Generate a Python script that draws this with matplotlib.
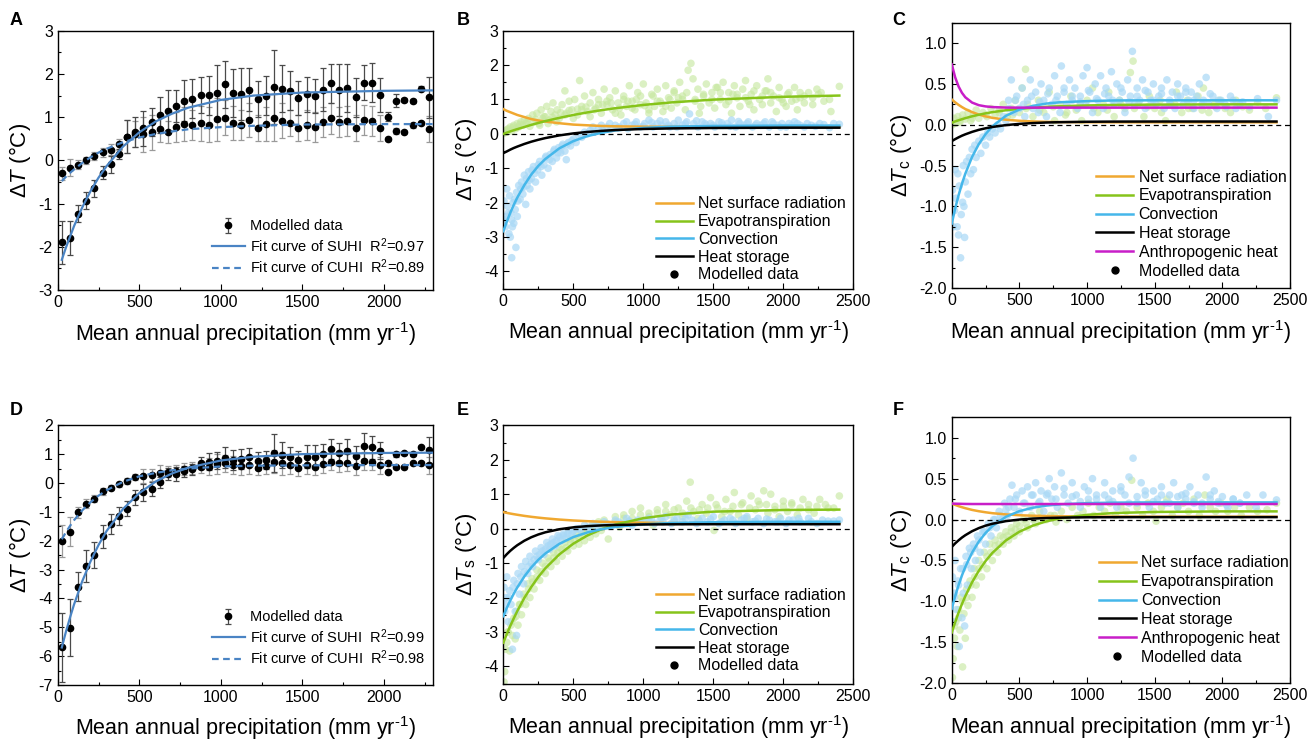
import matplotlib.pyplot as plt
from matplotlib.lines import Line2D
from matplotlib.ticker import MultipleLocator, FormatStrFormatter

plt.rcParams['font.family'] = ['Liberation Sans', 'DejaVu Sans']
plt.rcParams['mathtext.fontset'] = 'custom'
plt.rcParams['mathtext.rm'] = 'Liberation Sans'
plt.rcParams['mathtext.it'] = 'Liberation Sans:italic'
plt.rcParams['axes.unicode_minus'] = False

# ---- panels A / D : binned modelled data (bin centres in mm/yr) ----
bin_x = [25, 75, 125, 175, 225, 275, 325, 375, 425, 475, 525, 575, 625, 675, 725, 775,
         825, 875, 925, 975, 1025, 1075, 1125, 1175, 1225, 1275, 1325, 1375, 1425, 1475,
         1525, 1575, 1625, 1675, 1725, 1775, 1825, 1875, 1925, 1975, 2025, 2075, 2125,
         2175, 2225, 2275]

a_suhi = [-1.90, -1.80, -1.23, -0.93, -0.65, -0.29, -0.09, 0.15,
          0.55, 0.66, 0.74, 0.89, 1.05, 1.14, 1.26, 1.38, 1.43, 1.52, 1.51, 1.56,
          1.76, 1.56, 1.53, 1.64, 1.42, 1.50, 1.70, 1.66, 1.61, 1.44,
          1.53, 1.49, 1.64, 1.78, 1.63, 1.67, 1.46, 1.80, 1.80, 1.51,
          1.01, 1.38, 1.40, 1.37, 1.66, 1.46]
a_suhi_err = [0.5, 0.4, 0.2, 0.2, 0.2, 0.15, 0.2, 0.12,
              0.38, 0.35, 0.4, 0.32, 0.42, 0.5, 0.38, 0.48, 0.45, 0.42, 0.45, 0.65,
              0.55, 0.55, 0.6, 0.5, 0.42, 0.45, 0.85, 0.55, 0.45, 0.4,
              0.4, 0.4, 0.5, 0.45, 0.6, 0.55, 0.45, 0.4, 0.45, 0.4,
              0.1, 0.15, 0.05, 0.05, 0.05, 0.47]
a_cuhi = [-0.30, -0.17, -0.10, 0.0, 0.10, 0.19, 0.25, 0.37,
          0.55, 0.60, 0.60, 0.65, 0.72, 0.65, 0.78, 0.84, 0.82, 0.86, 0.83, 0.95,
          0.99, 0.87, 0.82, 0.93, 0.76, 0.84, 0.99, 0.92, 0.87, 0.74,
          0.82, 0.78, 0.88, 0.97, 0.89, 0.92, 0.76, 0.93, 0.92, 0.76,
          0.49, 0.68, 0.66, 0.81, 0.86, 0.72]
a_cuhi_err = [0.15, 0.2, 0.1, 0.08, 0.1, 0.1, 0.12, 0.12,
              0.38, 0.3, 0.4, 0.4, 0.3, 0.25, 0.35, 0.4, 0.35, 0.4, 0.4, 0.5,
              0.4, 0.4, 0.35, 0.4, 0.3, 0.4, 0.55, 0.4, 0.3, 0.3,
              0.35, 0.35, 0.35, 0.35, 0.35, 0.35, 0.3, 0.35, 0.35, 0.3,
              0.05, 0.08, 0.05, 0.05, 0.05, 0.3]

d_suhi = [-5.69, -5.01, -3.60, -2.88, -2.51, -1.84, -1.41, -1.14,
          -0.89, -0.50, -0.32, -0.20, 0.02, 0.31, 0.31, 0.40, 0.47, 0.70, 0.74, 0.77,
          0.88, 0.80, 0.82, 0.91, 0.76, 0.80, 1.03, 0.97, 0.91, 0.80,
          0.91, 0.91, 0.99, 1.17, 1.03, 1.11, 0.94, 1.28, 1.24, 1.12,
          0.68, 0.99, 1.03, 0.99, 1.24, 1.14]
d_suhi_err = [1.2, 1.0, 0.5, 0.55, 0.45, 0.4, 0.35, 0.3,
              0.25, 0.25, 0.3, 0.25, 0.2, 0.2, 0.25, 0.2, 0.2, 0.2, 0.3, 0.3,
              0.35, 0.35, 0.35, 0.3, 0.3, 0.3, 0.65, 0.45, 0.35, 0.3,
              0.4, 0.4, 0.35, 0.35, 0.35, 0.4, 0.35, 0.45, 0.4, 0.3,
              0.05, 0.1, 0.05, 0.05, 0.05, 0.45]
d_cuhi = [-2.00, -1.69, -1.02, -0.72, -0.54, -0.28, -0.16, -0.05,
          0.08, 0.21, 0.24, 0.28, 0.36, 0.39, 0.43, 0.48, 0.51, 0.54, 0.57, 0.65,
          0.68, 0.62, 0.59, 0.62, 0.51, 0.60, 0.74, 0.68, 0.62, 0.53,
          0.62, 0.57, 0.65, 0.74, 0.68, 0.70, 0.59, 0.76, 0.74, 0.61,
          0.39, 0.54, 0.54, 0.68, 0.70, 0.61]
d_cuhi_err = [0.55, 0.5, 0.2, 0.15, 0.12, 0.12, 0.1, 0.08,
              0.1, 0.1, 0.25, 0.2, 0.25, 0.2, 0.2, 0.2, 0.2, 0.2, 0.3, 0.35,
              0.3, 0.3, 0.3, 0.3, 0.25, 0.3, 0.4, 0.4, 0.3, 0.3,
              0.3, 0.3, 0.3, 0.3, 0.3, 0.3, 0.3, 0.3, 0.3, 0.3,
              0.05, 0.05, 0.05, 0.05, 0.05, 0.3]

# fit curves
fit_x = [25, 50, 75, 100, 150, 200, 250, 300, 400, 500, 600, 700, 800, 1000, 1200, 1500, 2000, 2300]
a_fit_suhi = [-2.30, -2.02, -1.77, -1.52, -1.09, -0.72, -0.40, -0.13, 0.32, 0.65, 0.90, 1.08, 1.22, 1.40, 1.50, 1.57, 1.61, 1.62]
a_fit_cuhi = [-0.48, -0.38, -0.29, -0.21, -0.06, 0.07, 0.18, 0.27, 0.42, 0.53, 0.61, 0.67, 0.72, 0.77, 0.80, 0.83, 0.84, 0.84]
d_fit_suhi = [-5.70, -5.16, -4.67, -4.21, -3.41, -2.73, -2.15, -1.66, -0.90, -0.35, 0.05, 0.33, 0.53, 0.78, 0.91, 1.00, 1.04, 1.05]
d_fit_cuhi = [-1.95, -1.71, -1.49, -1.29, -0.95, -0.67, -0.44, -0.25, 0.04, 0.23, 0.35, 0.44, 0.50, 0.57, 0.60, 0.61, 0.62, 0.62]

# ---- panels B, C, E, F : component curves ----
comp_x = [0, 25, 50, 75, 100, 150, 200, 250, 300, 400, 500, 600, 700, 800, 1000, 1200, 1500, 2000, 2400]

b_rad = [0.72, 0.67, 0.63, 0.59, 0.55, 0.49, 0.43, 0.39, 0.36, 0.31, 0.27, 0.25, 0.23, 0.22, 0.21, 0.205, 0.20, 0.20, 0.20]
b_et = [0.0, 0.036, 0.072, 0.106, 0.139, 0.20, 0.262, 0.318, 0.371, 0.466, 0.55, 0.624, 0.689, 0.746, 0.841, 0.915, 0.996, 1.078, 1.114]
b_conv = [-2.83, -2.55, -2.29, -2.06, -1.85, -1.49, -1.18, -0.93, -0.73, -0.42, -0.21, -0.065, 0.03, 0.10, 0.174, 0.21, 0.23, 0.24, 0.24]
b_stor = [-0.56, -0.51, -0.457, -0.41, -0.369, -0.293, -0.227, -0.171, -0.122, -0.044, 0.014, 0.056, 0.088, 0.112, 0.143, 0.159, 0.172, 0.18, 0.18]

c_rad = [0.31, 0.275, 0.244, 0.217, 0.193, 0.155, 0.125, 0.103, 0.085, 0.062, 0.049, 0.041, 0.036, 0.033, 0.031, 0.03, 0.03, 0.03, 0.03]
c_et = [0.025, 0.041, 0.055, 0.068, 0.081, 0.104, 0.123, 0.14, 0.155, 0.178, 0.196, 0.209, 0.22, 0.227, 0.237, 0.243, 0.247, 0.25, 0.25]
c_conv = [-1.21, -1.027, -0.865, -0.724, -0.60, -0.394, -0.236, -0.114, -0.019, 0.11, 0.187, 0.232, 0.26, 0.276, 0.29, 0.298, 0.30, 0.30, 0.30]
c_stor = [-0.20, -0.176, -0.154, -0.134, -0.117, -0.087, -0.062, -0.043, -0.027, -0.004, 0.011, 0.021, 0.028, 0.032, 0.037, 0.039, 0.04, 0.04, 0.04]
c_anth = [0.74, 0.581, 0.47, 0.392, 0.337, 0.272, 0.24, 0.225, 0.217, 0.211, 0.21, 0.21, 0.21, 0.21, 0.21, 0.21, 0.21, 0.21, 0.21]

e_rad = [0.48, 0.459, 0.439, 0.421, 0.404, 0.372, 0.345, 0.321, 0.30, 0.265, 0.238, 0.218, 0.202, 0.19, 0.174, 0.164, 0.156, 0.152, 0.15]
e_et = [-3.31, -3.055, -2.82, -2.60, -2.39, -2.01, -1.69, -1.40, -1.15, -0.746, -0.435, -0.198, -0.017, 0.119, 0.305, 0.411, 0.494, 0.543, 0.554]
e_conv = [-2.54, -2.30, -2.08, -1.885, -1.704, -1.389, -1.124, -0.904, -0.721, -0.44, -0.244, -0.11, -0.015, 0.05, 0.128, 0.165, 0.188, 0.20, 0.20]
e_stor = [-0.85, -0.74, -0.642, -0.556, -0.479, -0.35, -0.248, -0.168, -0.105, -0.016, 0.039, 0.074, 0.095, 0.108, 0.122, 0.127, 0.13, 0.13, 0.13]

f_rad = [0.195, 0.179, 0.164, 0.151, 0.139, 0.118, 0.102, 0.089, 0.078, 0.063, 0.053, 0.047, 0.043, 0.04, 0.037, 0.036, 0.035, 0.035, 0.035]
f_et = [-1.38, -1.254, -1.138, -1.032, -0.936, -0.766, -0.625, -0.506, -0.407, -0.255, -0.148, -0.073, -0.021, 0.015, 0.058, 0.08, 0.093, 0.10, 0.10]
f_conv = [-1.09, -0.937, -0.802, -0.683, -0.579, -0.404, -0.268, -0.163, -0.08, 0.034, 0.103, 0.145, 0.171, 0.186, 0.201, 0.207, 0.21, 0.21, 0.21]
f_stor = [-0.334, -0.291, -0.254, -0.22, -0.191, -0.142, -0.104, -0.074, -0.051, -0.019, 0.0, 0.012, 0.019, 0.023, 0.028, 0.029, 0.03, 0.03, 0.03]
f_anth = [0.195, 0.194, 0.193, 0.192, 0.191, 0.19, 0.19, 0.19, 0.19, 0.19, 0.19, 0.19, 0.19, 0.19, 0.19, 0.19, 0.19, 0.19, 0.19]

# ---- modelled data clouds (x mm/yr, y degC) ----
b_green_x = [5, 15, 25, 35, 50, 60, 75, 90, 100, 110, 125, 140, 150, 165, 180, 190,
             210, 220, 240, 255, 270, 280, 300, 310, 330, 340, 355, 370, 385, 400, 420, 440, 450, 470, 490,
             510, 530, 545, 560, 580, 600, 620, 640, 660, 680, 700, 720, 740, 760, 780, 800, 820, 840, 860, 880, 900, 920, 940, 960, 980,
             1000, 1020, 1040, 1060, 1080, 1100, 1120, 1140, 1160, 1180, 1200, 1220, 1240, 1260, 1280, 1300, 1320, 1340, 1355, 1370, 1390, 1410, 1430, 1450, 1470, 1490,
             1510, 1530, 1550, 1570, 1590, 1610, 1630, 1650, 1670, 1690, 1710, 1730, 1750, 1770, 1790, 1810, 1830, 1850, 1870, 1890, 1910, 1930, 1950, 1970, 1990,
             2020, 2040, 2060, 2080, 2100, 2120, 2150, 2180, 2210, 2250, 2290, 2340, 2400,
             30, 70, 120, 170, 230, 290, 350, 410, 470, 530, 590, 650, 710, 770, 830, 890, 950, 1010, 1070, 1130,
             1190, 1250, 1310, 1370, 1430, 1490, 1550, 1610, 1670, 1730, 1790, 1850, 1910, 1970, 2030, 2090, 2150, 2210, 2270, 2330,
             260, 320, 380, 440, 500, 560, 620, 680, 740, 800, 860, 920, 980, 1040, 1100, 1160, 1220, 1280, 1400, 1520,
             1640, 1760, 1880, 2000, 2120, 2240]
b_green_y = [0.02, 0.1, 0.05, 0.15, 0.2, 0.08, 0.25, 0.15, 0.3, 0.2, 0.35, 0.25, 0.4, 0.3, 0.45, 0.22,
             0.55, 0.35, 0.6, 0.3, 0.7, 0.45, 0.5, 0.8, 0.4, 0.65, 0.9, 0.55, 0.7, 0.45, 0.85, 1.25, 0.6, 0.95, 0.7,
             1.0, 0.55, 1.55, 0.8, 1.1, 0.65, 0.9, 1.2, 0.75, 1.0, 0.6, 1.3, 0.85, 1.05, 0.7, 1.25, 0.9, 0.55, 1.1, 0.8, 1.4, 0.95, 0.7, 1.2, 0.85,
             1.45, 0.9, 0.6, 1.15, 0.8, 1.3, 0.95, 0.65, 1.4, 1.05, 0.75, 1.25, 0.9, 1.5, 1.1, 0.7, 1.85, 2.05, 1.6, 1.0, 1.3, 0.8, 1.15, 1.45, 0.9, 1.2,
             0.75, 1.35, 1.0, 1.5, 0.85, 1.2, 0.6, 1.4, 1.05, 0.8, 1.3, 1.55, 0.95, 1.15, 0.7, 1.4, 1.0, 0.85, 1.25, 1.6, 0.9, 1.1, 0.65, 1.35, 1.0,
             0.8, 1.2, 0.95, 1.35, 0.7, 1.05, 0.9, 1.2, 0.85, 1.15, 0.95, 0.65, 1.38,
             0.12, 0.2, 0.28, 0.35, 0.42, 0.5, 0.48, 0.62, 0.68, 0.72, 0.78, 0.7, 0.85, 0.9, 0.75, 0.95, 1.0, 0.82, 1.1, 0.88,
             1.0, 1.05, 1.2, 0.95, 1.1, 1.0, 1.2, 0.95, 1.15, 1.05, 1.25, 1.1, 1.2, 1.05, 1.15, 1.0, 1.1, 1.05, 1.2, 1.0,
             0.25, 0.3, 0.35, 0.55, 0.45, 0.7, 0.5, 0.85, 0.95, 0.6, 1.0, 0.75, 1.1, 0.7, 0.95, 0.8, 1.2, 1.0, 0.6, 1.35,
             1.15, 0.85, 1.25, 0.9, 1.2, 1.3]
b_blue_x = [5, 10, 20, 25, 30, 40, 45, 50, 55, 60, 65, 70, 75, 85, 90, 95, 100, 110, 120, 130, 140, 150, 160, 170, 180, 190, 200,
            215, 230, 245, 260, 275, 290, 305, 320, 335, 350, 365, 380, 395, 410, 425, 440, 450, 465, 480, 500, 520, 540, 560, 580, 600,
            620, 650, 680, 710, 740, 770, 800, 830, 860, 890, 920, 950, 980, 1010, 1040, 1070, 1100, 1130, 1160, 1190, 1220, 1250, 1280,
            1310, 1330, 1360, 1390, 1420, 1450, 1480, 1510, 1540, 1570, 1600, 1630, 1660, 1690, 1720, 1750, 1780, 1810, 1840, 1870, 1900,
            1930, 1960, 1990, 2020, 2060, 2100, 2150, 2200, 2260, 2330, 2400,
            640, 700, 760, 820, 880, 940, 1000, 1060, 1120, 1180, 1240, 1300, 1380, 1440, 1500, 1560, 1620, 1680, 1740, 1800,
            1860, 1920, 1980, 2040, 2080, 2120, 2170, 2230, 2290, 2360,
            15, 35, 60, 80, 105, 125, 145, 165, 185, 205, 225, 250, 270, 300, 330, 360, 390, 420, 455, 490]
b_blue_y = [-1.95, -2.5, -2.4, -1.6, -2.1, -2.9, -1.8, -3.0, -2.3, -3.6, -2.7, -2.0, -2.6, -2.2, -3.3, -1.7, -2.4, -1.5, -1.9, -1.4, -1.75, -1.2, -2.05, -1.5, -1.1, -1.6, -1.3,
            -0.95, -1.4, -1.05, -0.8, -1.2, -0.9, -0.65, -1.0, -0.6, -0.8, -0.45, -0.7, -0.4, -0.55, -0.3, -0.5, -0.75, -0.25, -0.35, -0.15, -0.25, -0.05, -0.1, 0.05, 0.0,
            0.1, 0.05, 0.15, 0.1, 0.2, 0.15, 0.25, 0.2, 0.3, 0.15, 0.25, 0.35, 0.2, 0.3, 0.4, 0.2, 0.3, 0.25, 0.35, 0.2, 0.3, 0.4, 0.25,
            0.35, 0.58, 0.3, 0.2, 0.35, 0.25, 0.3, 0.2, 0.35, 0.25, 0.3, 0.4, 0.2, 0.3, 0.25, 0.35, 0.2, 0.3, 0.25, 0.35, 0.2,
            0.3, 0.25, 0.3, 0.2, 0.25, 0.3, 0.2, 0.25, 0.3, 0.18, 0.28,
            0.2, 0.25, 0.3, 0.18, 0.35, 0.28, 0.22, 0.33, 0.38, 0.25, 0.2, 0.3, 0.38, 0.3, 0.25, 0.32, 0.22, 0.36, 0.3, 0.25,
            0.3, 0.35, 0.2, 0.3, 0.35, 0.25, 0.3, 0.22, 0.27, 0.3,
            -2.7, -2.3, -2.5, -1.9, -1.95, -1.6, -1.55, -1.3, -1.35, -1.05, -1.15, -0.9, -0.95, -0.7, -0.75, -0.5, -0.55, -0.35, -0.3, -0.2]

c_blue_x = [5, 10, 20, 25, 30, 40, 45, 50, 55, 65, 70, 80, 85, 90, 95, 100, 110, 120, 130, 140, 150, 160, 170, 180, 200, 215, 230, 250,
            265, 280, 300, 320, 340, 360, 380, 400, 420, 440, 460, 480, 500, 520, 540, 560, 580, 600, 620, 640, 660, 680, 700, 720, 740,
            760, 780, 800, 810, 830, 850, 870, 890, 910, 930, 950, 970, 990, 1000, 1020, 1040, 1060, 1080, 1100, 1120, 1140, 1160, 1180,
            1200, 1220, 1240, 1260, 1280, 1300, 1320, 1335, 1350, 1370, 1390, 1410, 1430, 1450, 1470, 1490, 1510, 1530, 1550, 1570, 1590,
            1610, 1630, 1650, 1670, 1690, 1710, 1730, 1750, 1770, 1790, 1810, 1830, 1860, 1880, 1900, 1930, 1960, 1990, 2020, 2060, 2100,
            2150, 2200, 2260, 2340, 2400,
            420, 470, 530, 590, 650, 710, 770, 830, 890, 950, 1010, 1070, 1130, 1190, 1250, 1310, 1370, 1430, 1490, 1550,
            1610, 1670, 1730, 1790, 1850, 1910, 1970, 2030, 2080, 2130]
c_blue_y = [-0.8, -1.25, -1.05, -0.55, -0.9, -1.25, -0.6, -1.35, -0.75, -1.63, -1.1, -0.95, -0.5, -1.0, -1.38, -0.7, -0.45, -0.85, -0.4, -0.6, -0.3, -0.55, -0.25, -0.4, -0.2, -0.35, -0.15, -0.25,
            -0.1, -0.15, -0.05, -0.1, 0.0, -0.05, 0.1, 0.05, 0.3, 0.55, 0.15, 0.35, 0.2, 0.45, 0.1, 0.3, 0.55, 0.2, 0.4, 0.15, 0.5, 0.3, 0.1, 0.45, 0.25,
            0.6, 0.35, 0.15, 0.72, 0.4, 0.25, 0.55, 0.3, 0.45, 0.2, 0.35, 0.6, 0.25, 0.7, 0.4, 0.15, 0.5, 0.3, 0.6, 0.2, 0.45, 0.35, 0.65,
            0.25, 0.5, 0.3, 0.4, 0.15, 0.55, 0.35, 0.9, 0.25, 0.45, 0.3, 0.55, 0.2, 0.4, 0.3, 0.5, 0.25, 0.35, 0.45, 0.2, 0.55,
            0.3, 0.4, 0.2, 0.5, 0.35, 0.25, 0.45, 0.3, 0.4, 0.2, 0.35, 0.5, 0.3, 0.58, 0.25, 0.35, 0.2, 0.3, 0.25, 0.35, 0.2,
            0.28, 0.22, 0.32, 0.1, 0.3,
            0.2, 0.3, 0.25, 0.35, 0.28, 0.38, 0.3, 0.45, 0.35, 0.28, 0.42, 0.32, 0.38, 0.3, 0.45, 0.28, 0.35, 0.42, 0.3, 0.38,
            0.25, 0.35, 0.4, 0.3, 0.25, 0.38, 0.3, 0.22, 0.3, 0.25]
c_green_x = [5, 15, 30, 45, 60, 80, 100, 120, 140, 160, 180, 200, 230, 260, 290, 320, 350, 380, 410, 440, 470, 500, 520, 545, 560,
             600, 640, 680, 720, 760, 800, 840, 880, 920, 960, 1000, 1040, 1080, 1120, 1160, 1200, 1240, 1280, 1320, 1340, 1380, 1420,
             1460, 1500, 1540, 1580, 1620, 1660, 1700, 1740, 1780, 1820, 1860, 1900, 1940, 1980, 2020, 2060, 2100, 2150, 2200, 2260, 2320, 2400,
             60, 150, 250, 350, 450, 550, 650, 750, 850, 950, 1050, 1150, 1250, 1350, 1450, 1550, 1650, 1750, 1850, 1950]
c_green_y = [0.0, 0.08, 0.02, 0.1, 0.05, 0.12, 0.07, 0.15, 0.05, 0.12, 0.18, 0.08, 0.15, 0.1, 0.2, 0.12, 0.18, 0.25, 0.1, 0.2, 0.3, 0.15, 0.45, 0.68, 0.25,
             0.1, 0.3, 0.15, 0.4, 0.05, 0.25, 0.12, 0.35, 0.18, 0.05, 0.3, 0.45, 0.15, 0.25, 0.4, 0.1, 0.3, 0.2, 0.64, 0.78, 0.25, 0.1,
             0.35, 0.2, 0.3, 0.05, 0.25, 0.4, 0.15, 0.3, 0.2, 0.35, 0.45, 0.15, 0.25, 0.3, 0.2, 0.15, 0.3, 0.22, 0.18, 0.28, 0.2, 0.33,
             0.03, 0.08, 0.12, 0.15, 0.12, 0.2, 0.18, 0.22, 0.15, 0.25, 0.2, 0.18, 0.25, 0.2, 0.22, 0.15, 0.25, 0.2, 0.18, 0.22]

e_green_x = [5, 10, 15, 25, 35, 45, 55, 65, 75, 85, 95, 105, 115, 130, 145, 160, 175, 190, 205, 220, 240, 260, 280, 300, 320, 340,
             360, 380, 400, 420, 440, 460, 480, 500, 520, 540, 560, 580, 600, 620, 640, 660, 680, 700, 720, 750, 770, 800, 830, 860,
             890, 920, 950, 980, 1010, 1040, 1070, 1100, 1130, 1160, 1190, 1220, 1250, 1280, 1310, 1335, 1360, 1390, 1420, 1450, 1480,
             1505, 1530, 1560, 1590, 1620, 1650, 1680, 1710, 1740, 1770, 1800, 1830, 1860, 1890, 1910, 1940, 1970, 2000, 2030, 2060,
             2100, 2140, 2180, 2220, 2260, 2320, 2400,
             30, 60, 90, 120, 150, 180, 210, 240, 270, 300, 330, 360, 390, 420, 450, 480, 510, 540, 570, 600, 650, 700,
             800, 860, 920, 980, 1040, 1100, 1160, 1220, 1280, 1340, 1400, 1460, 1520, 1580, 1640, 1700, 1760, 1820, 1880, 1940,
             2000, 2060, 2120, 2180, 2240, 2300, 2360]
e_green_y = [-4.45, -4.15, -3.5, -3.3, -3.0, -3.55, -2.8, -3.1, -2.6, -3.2, -2.4, -2.8, -2.2, -2.5, -1.9, -2.2, -1.6, -2.0, -1.45, -1.75, -1.2, -1.5, -1.0, -1.3, -0.85, -1.1,
             -0.7, -0.95, -0.55, -0.8, -0.4, -0.65, -0.3, -0.5, -0.2, -0.45, -0.1, -0.35, 0.0, -0.25, 0.1, -0.15, 0.2, -0.05, 0.25, -0.3, 0.1, 0.35, 0.05, 0.4,
             0.15, 0.5, 0.2, 0.6, 0.25, 0.45, 0.1, 0.55, 0.3, 0.7, 0.4, 0.2, 0.6, 0.35, 0.8, 1.35, 0.5, 0.3, 0.7, 0.45, 0.9,
             -0.05, 0.6, 0.35, 0.85, 0.5, 1.05, 0.4, 0.75, 0.3, 0.95, 0.55, 0.7, 1.1, 0.45, 1.0, 0.65, 0.35, 0.8, 0.5, 0.7,
             0.4, 0.85, 0.55, 0.45, 0.85, 0.6, 0.95,
             -3.0, -2.7, -2.55, -2.2, -2.0, -1.75, -1.55, -1.4, -1.25, -1.1, -0.95, -0.85, -0.7, -0.6, -0.55, -0.4, -0.35, -0.25, -0.2, -0.12, -0.05, 0.05,
             0.2, 0.3, 0.3, 0.4, 0.35, 0.45, 0.5, 0.55, 0.45, 0.6, 0.55, 0.6, 0.7, 0.5, 0.65, 0.7, 0.6, 0.8, 0.7, 0.55,
             0.65, 0.75, 0.6, 0.7, 0.65, 0.7, 0.6]
e_blue_x = [5, 10, 20, 25, 35, 45, 55, 65, 75, 85, 95, 105, 115, 130, 145, 160, 175, 190, 210, 230, 250, 270, 290, 310, 330, 350,
            370, 390, 410, 430, 450, 470, 490, 520, 550, 580, 610, 640, 680, 720, 760, 800, 840, 880, 920, 960, 1000, 1040, 1080, 1120,
            1160, 1200, 1240, 1280, 1320, 1350, 1380, 1420, 1460, 1500, 1540, 1580, 1620, 1660, 1700, 1740, 1780, 1820, 1860, 1900,
            1940, 1980, 2020, 2070, 2120, 2180, 2240, 2320, 2400,
            15, 40, 70, 100, 125, 150, 180, 200, 220, 240, 260, 280, 300, 320, 340, 360, 380, 400, 430, 460,
            500, 540, 600, 660, 740, 820, 900, 980, 1060, 1140, 1220, 1300, 1400, 1480, 1560, 1640, 1720, 1800, 1880, 1960,
            2040, 2110, 2200, 2280, 2360]
e_blue_y = [-1.7, -2.4, -2.0, -1.4, -2.7, -1.8, -2.2, -3.5, -1.5, -2.4, -3.1, -1.3, -1.9, -1.1, -1.6, -0.95, -1.3, -0.8, -1.1, -0.65, -0.9, -0.55, -0.75, -0.4, -0.6, -0.3,
            -0.5, -0.2, -0.35, -0.15, -0.25, -0.05, -0.15, 0.0, -0.05, 0.1, 0.0, 0.15, 0.05, 0.2, 0.1, 0.25, 0.15, 0.3, 0.1, 0.25, 0.2, 0.3, 0.15, 0.25,
            0.35, 0.15, 0.3, 0.2, 0.4, 0.25, 0.15, 0.3, 0.2, 0.35, 0.15, 0.25, 0.3, 0.15, 0.25, 0.35, 0.2, 0.3, 0.15, 0.25,
            0.2, 0.3, 0.15, 0.25, 0.2, 0.3, 0.15, 0.22, 0.25,
            -2.2, -2.0, -1.7, -1.6, -1.4, -1.25, -1.1, -1.0, -0.9, -0.8, -0.75, -0.65, -0.6, -0.5, -0.45, -0.4, -0.35, -0.25, -0.2, -0.15,
            -0.08, 0.0, 0.05, 0.1, 0.15, 0.2, 0.22, 0.18, 0.25, 0.2, 0.25, 0.3, 0.22, 0.28, 0.2, 0.25, 0.3, 0.22, 0.28, 0.2,
            0.25, 0.3, 0.2, 0.25, 0.22]

f_blue_x = [5, 10, 20, 25, 35, 45, 55, 65, 75, 85, 95, 105, 115, 130, 145, 160, 175, 190, 210, 230, 250, 270, 290, 310, 330, 350,
            370, 390, 410, 430, 445, 460, 480, 500, 520, 540, 560, 580, 600, 620, 640, 660, 680, 700, 720, 740, 760, 780, 810, 830,
            860, 890, 920, 950, 980, 1010, 1040, 1070, 1100, 1130, 1160, 1190, 1220, 1250, 1280, 1310, 1340, 1370, 1400, 1430, 1460,
            1490, 1520, 1550, 1580, 1610, 1640, 1670, 1700, 1730, 1760, 1790, 1820, 1850, 1880, 1910, 1940, 1970, 2000, 2040, 2080,
            2130, 2180, 2250, 2300, 2400,
            420, 470, 530, 590, 650, 710, 770, 830, 890, 950, 1010, 1070, 1130, 1190, 1250, 1310, 1370, 1430, 1490, 1550,
            1610, 1670, 1730, 1790, 1850, 1910, 1970, 2030, 2080, 2130,
            20, 50, 80, 110, 140, 170, 200, 240, 280, 320, 360, 400]
f_blue_y = [-0.7, -1.25, -0.95, -0.5, -1.1, -0.75, -1.55, -0.6, -1.2, -0.9, -1.3, -0.45, -0.8, -0.35, -0.6, -0.3, -0.5, -0.2, -0.4, -0.15, -0.3, -0.05, -0.2, 0.0, -0.1, 0.1,
            0.0, 0.2, 0.05, 0.25, 0.42, 0.15, 0.3, 0.1, 0.35, 0.2, 0.4, 0.15, 0.3, 0.45, 0.2, 0.35, 0.1, 0.3, 0.5, 0.25, 0.4, 0.15, 0.57, 0.3,
            0.2, 0.45, 0.3, 0.15, 0.4, 0.25, 0.5, 0.3, 0.15, 0.45, 0.25, 0.35, 0.15, 0.4, 0.3, 0.52, 0.75, 0.2, 0.45, 0.3, 0.15,
            0.35, 0.25, 0.4, 0.2, 0.3, 0.45, 0.15, 0.3, 0.25, 0.4, 0.2, 0.3, 0.15, 0.52, 0.25, 0.35, 0.2, 0.28, 0.15, 0.25,
            0.2, 0.3, 0.15, 0.3, 0.24,
            0.15, 0.25, 0.2, 0.3, 0.22, 0.32, 0.25, 0.38, 0.28, 0.22, 0.35, 0.25, 0.3, 0.22, 0.35, 0.2, 0.28, 0.35, 0.22, 0.3,
            0.2, 0.28, 0.32, 0.22, 0.2, 0.3, 0.22, 0.18, 0.25, 0.2,
            -0.9, -0.8, -0.6, -0.55, -0.4, -0.35, -0.25, -0.15, -0.1, 0.0, 0.05, 0.12]
f_green_x = [5, 10, 20, 30, 40, 50, 60, 70, 80, 90, 100, 110, 120, 135, 150, 165, 180, 200, 220, 240, 260, 280, 300, 320, 340,
             360, 380, 400, 420, 440, 460, 480, 500, 530, 560, 590, 620, 650, 690, 730, 770, 810, 850, 890, 930, 970, 1010, 1050,
             1090, 1130, 1170, 1210, 1250, 1290, 1330, 1370, 1410, 1450, 1490, 1510, 1550, 1590, 1630, 1670, 1710, 1750, 1790, 1830,
             1870, 1910, 1950, 1990, 2040, 2090, 2140, 2200, 2260, 2330, 2400,
             20, 50, 80, 110, 140, 170, 200, 230, 260, 290, 320, 350, 380, 410, 440, 470, 500, 550, 600, 650, 700, 760]
f_green_y = [-1.93, -1.7, -1.45, -1.25, -1.55, -1.1, -1.35, -0.95, -1.8, -1.15, -1.45, -0.85, -1.05, -0.75, -0.95, -0.6, -0.8, -0.5, -0.7, -0.4, -0.6, -0.3, -0.5, -0.25, -0.4,
             -0.2, -0.3, -0.15, -0.25, -0.1, -0.2, -0.05, -0.15, 0.0, -0.1, 0.05, -0.05, 0.1, 0.0, 0.05, -0.03, 0.1, 0.0, 0.15, 0.05, 0.1, 0.2, 0.05,
             0.15, 0.1, 0.2, 0.05, 0.15, 0.1, 0.48, 0.15, 0.05, 0.2, 0.1, -0.02, 0.15, 0.25, 0.05, 0.15, 0.2, 0.1, 0.25, 0.05,
             0.3, 0.15, 0.1, 0.2, 0.1, 0.15, 0.05, 0.15, 0.1, 0.12, 0.2,
             -1.3, -1.2, -1.0, -0.95, -0.8, -0.7, -0.6, -0.55, -0.45, -0.4, -0.32, -0.3, -0.22, -0.2, -0.15, -0.12, -0.08, -0.05, 0.0, 0.02, 0.0, 0.05]

C_RAD = '#f0a830'
C_ET = '#86c41a'
C_CONV = '#45b7ea'
C_STOR = '#000000'
C_ANTH = '#c81ec8'
C_FIT = '#4a84c4'
DOT_GREEN = '#c4e79c'
DOT_BLUE = '#a8d8f6'

XLABEL = 'Mean annual precipitation (mm yr$^{\\text{-1}}$)'


def style_axes(ax, xmax, ylim, ymaj, ymin, yfmt):
    ax.set_xlim(0, xmax)
    ax.set_ylim(*ylim)
    ax.xaxis.set_major_locator(MultipleLocator(500))
    ax.xaxis.set_minor_locator(MultipleLocator(250))
    ax.yaxis.set_major_locator(MultipleLocator(ymaj))
    ax.yaxis.set_minor_locator(MultipleLocator(ymin))
    ax.yaxis.set_major_formatter(FormatStrFormatter(yfmt))
    ax.tick_params(which='both', direction='in', top=False, right=False, labelsize=11.5, width=0.8)
    ax.tick_params(which='major', length=4)
    ax.tick_params(which='minor', length=2.5)
    for s in ax.spines.values():
        s.set_linewidth(1.0)
    ax.set_xlabel(XLABEL, fontsize=15.5, labelpad=7)


def uhi_panel(ax, suhi, suhi_err, cuhi, cuhi_err, fit_s, fit_c, r2s, r2c, ylim, leg_y):
    style_axes(ax, 2300, ylim, 1, 0.5, '%g')
    ax.errorbar(bin_x, cuhi, yerr=cuhi_err, fmt='o', color='black', ms=4.5,
                ecolor='#9a9a9a', elinewidth=0.9, capsize=2.5, capthick=0.9, zorder=2)
    eb = ax.errorbar(bin_x, suhi, yerr=suhi_err, fmt='o', color='black', ms=4.5,
                     ecolor='#4a4a4a', elinewidth=0.9, capsize=2.5, capthick=0.9, zorder=2)
    l1, = ax.plot(fit_x, fit_s, color=C_FIT, lw=1.6, zorder=3)
    l2, = ax.plot(fit_x, fit_c, color=C_FIT, lw=1.6, ls=(0, (3, 2)), zorder=3)
    ax.set_ylabel('Δ$\\mathit{T}$ (°C)', fontsize=16, labelpad=4)
    ax.legend([eb, l1, l2], ['Modelled data',
                             'Fit curve of SUHI  R$^2$=' + r2s,
                             'Fit curve of CUHI  R$^2$=' + r2c],
              loc='lower left', bbox_to_anchor=(0.41, leg_y), frameon=False,
              fontsize=10.5, handlelength=2.3, handletextpad=0.3, labelspacing=0.18,
              borderpad=0, borderaxespad=0)


def comp_panel(ax, sub, ylim, ymaj, ymin, yfmt, green_xy, blue_xy, curves, leg_xy, lsp):
    style_axes(ax, 2500, ylim, ymaj, ymin, yfmt)
    ax.scatter(green_xy[0], green_xy[1], s=30, color=DOT_GREEN, alpha=0.6, edgecolors='none', zorder=1)
    ax.scatter(blue_xy[0], blue_xy[1], s=30, color=DOT_BLUE, alpha=0.7, edgecolors='none', zorder=1)
    ax.axhline(0, color='black', lw=0.9, ls=(0, (4, 3)), zorder=2)
    handles = []
    labels = []
    for vals, col, lab in curves:
        ln, = ax.plot(comp_x, vals, color=col, lw=1.8, zorder=3)
        handles.append(ln)
        labels.append(lab)
    handles.append(Line2D([], [], ls='none', marker='o', color='black', ms=5))
    labels.append('Modelled data')
    ax.set_ylabel('Δ$\\mathit{T}_\\mathrm{' + sub + '}$ (°C)', fontsize=16, labelpad=4)
    ax.legend(handles, labels, loc='lower left', bbox_to_anchor=leg_xy, frameon=False,
              fontsize=11.5, handlelength=2.3, handletextpad=0.35, labelspacing=lsp,
              borderpad=0, borderaxespad=0)


fig = plt.figure(figsize=(13.09, 7.41), dpi=100)

ax_a = fig.add_axes([0.0441, 0.6086, 0.2867, 0.3499])
ax_b = fig.add_axes([0.3845, 0.6104, 0.2674, 0.3482])
ax_c = fig.add_axes([0.7271, 0.6113, 0.2584, 0.3580])
ax_d = fig.add_axes([0.0441, 0.0756, 0.2867, 0.3505])
ax_e = fig.add_axes([0.3845, 0.0773, 0.2674, 0.3487])
ax_f = fig.add_axes([0.7271, 0.0779, 0.2584, 0.3590])

uhi_panel(ax_a, a_suhi, a_suhi_err, a_cuhi, a_cuhi_err, a_fit_suhi, a_fit_cuhi, '0.97', '0.89', (-3, 3), 0.055)
uhi_panel(ax_d, d_suhi, d_suhi_err, d_cuhi, d_cuhi_err, d_fit_suhi, d_fit_cuhi, '0.99', '0.98', (-7, 2), 0.07)

comp_panel(ax_b, 's', (-4.5, 3), 1, 0.5, '%g', (b_green_x, b_green_y), (b_blue_x, b_blue_y),
           [(b_rad, C_RAD, 'Net surface radiation'), (b_et, C_ET, 'Evapotranspiration'),
            (b_conv, C_CONV, 'Convection'), (b_stor, C_STOR, 'Heat storage')], (0.436, 0.025), 0.17)
comp_panel(ax_c, 'c', (-2.0, 1.25), 0.5, 0.25, '%.1f', (c_green_x, c_green_y), (c_blue_x, c_blue_y),
           [(c_rad, C_RAD, 'Net surface radiation'), (c_et, C_ET, 'Evapotranspiration'),
            (c_conv, C_CONV, 'Convection'), (c_stor, C_STOR, 'Heat storage'),
            (c_anth, C_ANTH, 'Anthropogenic heat')], (0.427, 0.035), 0.24)
comp_panel(ax_e, 's', (-4.5, 3), 1, 0.5, '%g', (e_green_x, e_green_y), (e_blue_x, e_blue_y),
           [(e_rad, C_RAD, 'Net surface radiation'), (e_et, C_ET, 'Evapotranspiration'),
            (e_conv, C_CONV, 'Convection'), (e_stor, C_STOR, 'Heat storage')], (0.436, 0.04), 0.17)
comp_panel(ax_f, 'c', (-2.0, 1.25), 0.5, 0.25, '%.1f', (f_green_x, f_green_y), (f_blue_x, f_blue_y),
           [(f_rad, C_RAD, 'Net surface radiation'), (f_et, C_ET, 'Evapotranspiration'),
            (f_conv, C_CONV, 'Convection'), (f_stor, C_STOR, 'Heat storage'),
            (f_anth, C_ANTH, 'Anthropogenic heat')], (0.435, 0.07), 0.24)

for lab, x, y in [('A', 0.0076, 0.9843), ('B', 0.3488, 0.9843), ('C', 0.6813, 0.9843),
                  ('D', 0.0076, 0.458), ('E', 0.3488, 0.458), ('F', 0.6820, 0.458)]:
    fig.text(x, y, lab, fontsize=13, fontweight='bold', va='top', ha='left')

fig.savefig('out.png', dpi=100)
